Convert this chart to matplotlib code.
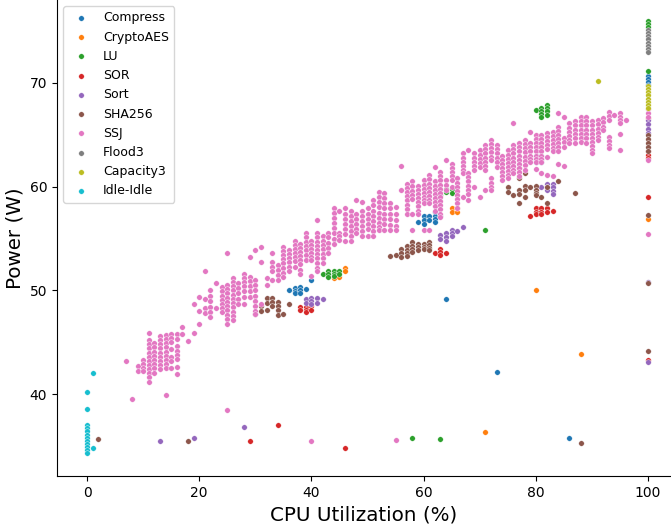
import matplotlib
matplotlib.use("Agg")
import matplotlib.pyplot as plt

# Series order = legend order = drawing order
labels = ["Compress", "CryptoAES", "LU", "SOR", "Sort", "SHA256",
          "SSJ", "Flood3", "Capacity3", "Idle-Idle"]

compress = [(36, 50.0), (37, 50.2), (37, 49.9), (37, 49.7), (38, 50.3), (38, 50.0),
            (38, 49.7), (39, 50.1), (40, 51.0), (59, 56.6), (60, 57.2), (60, 56.8),
            (60, 56.4), (61, 57.2), (61, 56.8), (62, 57.6), (62, 57.2), (62, 56.9),
            (62, 56.6), (63, 57.2), (64, 49.2), (73, 42.1), (80, 63.0), (80, 62.7),
            (80, 62.4), (81, 63.0), (81, 62.7), (81, 62.4), (86, 35.8), (100, 70.7),
            (100, 70.4), (100, 70.1), (100, 69.8)]

crypto_aes = [(44, 51.2), (45, 51.3), (46, 52.2), (46, 51.9), (65, 57.9), (65, 57.6),
              (66, 57.9), (66, 57.6), (71, 36.3), (80, 50.0), (81, 63.9), (88, 43.9),
              (100, 66.6), (100, 56.9)]

lu = [(42, 51.6), (43, 51.9), (43, 51.6), (43, 51.3), (44, 51.9), (44, 51.6),
      (44, 51.4), (45, 51.9), (45, 51.6), (58, 35.8), (63, 35.7), (63, 59.2),
      (64, 59.8), (64, 59.5), (65, 59.8), (65, 59.4), (71, 55.8), (80, 67.4),
      (81, 67.6), (81, 67.3), (81, 67.0), (81, 66.7), (82, 67.9), (82, 67.6),
      (82, 67.3), (82, 66.9), (100, 76.0), (100, 75.7), (100, 75.4), (100, 71.2)]

sor = [(29, 35.5), (34, 37.0), (38, 48.4), (38, 48.1), (39, 48.4), (39, 48.1),
       (39, 47.9), (40, 48.5), (40, 48.1), (46, 34.8), (62, 53.6), (63, 54.0),
       (63, 53.7), (63, 53.4), (64, 53.6), (79, 57.2), (80, 57.9), (80, 57.6),
       (80, 57.4), (81, 57.9), (81, 57.6), (81, 57.4), (82, 57.9), (82, 57.6),
       (83, 57.7), (100, 63.4), (100, 63.1), (100, 62.8), (100, 59.0), (100, 43.3)]

sort_ = [(13, 35.5), (19, 35.8), (28, 36.8), (39, 49.2), (39, 48.8), (40, 49.3),
         (40, 49.0), (40, 48.7), (41, 49.3), (41, 48.8), (42, 49.2), (63, 55.3),
         (63, 55.0), (64, 55.5), (64, 55.1), (64, 54.8), (65, 55.8), (65, 55.5),
         (65, 55.2), (66, 55.7), (67, 56.1), (81, 60.0), (82, 60.3), (82, 60.0),
         (82, 59.7), (83, 60.3), (83, 60.0), (83, 59.6), (83, 59.3), (100, 66.4),
         (100, 66.0), (100, 65.6), (100, 65.2), (100, 50.8), (100, 43.1)]

sha256 = [(2, 35.7), (18, 35.5), (30, 47.7), (31, 48.5), (31, 48.0), (32, 49.3),
          (32, 48.8), (32, 48.1), (33, 49.3), (33, 48.9), (33, 48.5), (34, 48.9),
          (34, 48.5), (34, 48.1), (34, 47.6), (35, 47.7), (36, 48.7), (54, 53.3),
          (55, 53.4), (56, 54.0), (56, 53.6), (56, 53.2), (57, 54.3), (57, 53.9),
          (57, 53.6), (57, 53.3), (58, 54.7), (58, 54.3), (58, 54.0), (58, 53.7),
          (59, 54.5), (59, 54.2), (59, 53.9), (60, 54.5), (60, 54.2), (60, 54.0),
          (61, 54.7), (61, 54.4), (61, 54.1), (61, 53.9), (75, 60.0), (75, 59.5),
          (76, 59.2), (77, 61.8), (77, 60.8), (77, 59.7), (77, 59.3), (77, 58.4),
          (78, 61.3), (78, 60.1), (78, 59.7), (78, 59.0), (79, 60.0), (80, 60.1),
          (80, 59.7), (80, 59.4), (80, 59.2), (81, 59.0), (82, 60.0), (82, 58.4),
          (84, 60.5), (87, 59.4), (88, 35.3), (100, 65.0), (100, 64.6), (100, 64.2),
          (100, 63.8), (100, 63.4), (100, 57.3), (100, 50.7), (100, 44.2)]

# SSJ: utilization -> measured power readings
ssj = {
    7: [43.2], 8: [39.5], 9: [42.7, 42.2], 10: [43.3, 42.9, 42.5, 42.2],
    11: [45.9, 45.2, 44.8, 44.4, 44.0, 43.6, 43.2, 42.8, 42.4, 42.0, 41.6, 41.2],
    12: [44.9, 44.5, 44.1, 43.7, 43.3, 42.9, 42.5, 42.0],
    13: [45.6, 45.2, 44.8, 44.4, 44.0, 43.6, 43.2, 42.8, 42.4],
    14: [45.7, 45.3, 44.9, 44.5, 44.1, 43.7, 43.3, 42.9, 42.5, 39.9],
    15: [45.8, 45.4, 45.0, 44.3, 43.6, 43.2, 42.5],
    16: [45.8, 45.3, 44.6, 44.2, 43.8, 43.4, 42.6, 41.9],
    17: [46.5, 45.8], 18: [45.1], 19: [48.7, 45.9], 20: [49.4, 48.0, 46.8],
    21: [51.9, 49.2, 48.3, 47.8],
    22: [50.0, 49.5, 49.0, 48.4, 47.9, 47.4], 23: [50.7, 48.3],
    24: [50.3, 49.9, 49.5, 49.1, 48.7, 48.3, 47.9],
    25: [53.6, 50.5, 50.1, 49.7, 49.3, 48.9, 48.5, 48.1, 47.6, 47.2, 46.8, 38.5],
    26: [51.2, 50.8, 50.4, 50.0, 49.6, 49.2, 48.8, 48.4, 47.9, 47.5, 47.1],
    27: [50.7, 50.2, 49.7, 49.2, 48.7],
    28: [51.6, 51.2, 50.8, 50.4, 49.9, 49.4, 48.7],
    29: [53.2, 51.3, 50.9, 50.4, 49.9, 49.4],
    30: [53.9, 51.0, 50.5, 50.0, 49.5, 49.0, 48.5, 48.0, 47.7],
    31: [54.2, 52.7, 48.7], 32: [51.2, 50.5],
    33: [53.6, 52.7, 52.3, 51.9, 51.0], 34: [52.4, 52.0, 51.5, 51.0],
    35: [54.2, 53.8, 53.4, 53.0, 52.6, 52.2, 51.7, 51.3],
    36: [53.9, 53.5, 53.1, 52.7, 52.3, 51.9],
    37: [54.8, 54.4, 54.0, 53.6, 53.2, 52.8, 52.3],
    38: [54.5, 54.1, 53.7, 53.3, 52.9, 52.5, 52.0, 51.6],
    39: [55.5, 55.1, 54.7, 54.3, 53.9, 53.4, 52.9],
    40: [54.8, 54.4, 54.0, 53.6, 53.2, 52.9, 51.4, 35.5],
    41: [56.8, 55.5, 55.1, 54.7, 54.3, 53.9, 53.5, 53.1, 52.6, 52.2, 51.9],
    42: [55.2, 54.8, 54.4, 54.0, 53.5, 53.1, 52.6],
    43: [55.5, 55.1, 54.6, 54.1, 53.6],
    44: [57.9, 57.5, 57.0, 56.5, 56.0, 55.5, 55.0, 54.5],
    45: [57.7, 55.5, 55.2, 54.9],
    46: [57.9, 57.4, 56.9, 56.4, 55.9, 55.4, 54.8],
    47: [57.7, 57.2, 56.7, 56.2, 55.7, 55.2, 54.8],
    48: [58.7, 57.4, 56.9, 56.4, 55.9, 55.5],
    49: [58.5, 57.7, 57.2, 56.7, 56.2, 55.7, 55.2],
    50: [57.9, 57.4, 56.9, 56.4, 55.9, 55.2],
    51: [58.7, 58.2, 57.7, 57.2, 56.7, 56.2, 55.7, 55.2],
    52: [59.5, 59.0, 58.5, 58.0, 57.5, 57.0, 56.5, 56.1, 55.8],
    53: [59.4, 58.9, 58.4, 57.9, 57.4, 56.9, 56.4, 55.8],
    54: [58.4, 57.9, 57.4, 56.9, 56.3, 55.8],
    55: [58.0, 57.4, 56.8, 56.2, 55.8, 35.6],
    56: [62.0, 59.7],
    57: [60.3, 59.9, 59.5, 59.1, 58.7, 58.2, 57.8, 57.4],
    58: [60.5, 60.1, 59.6, 59.2, 58.8, 57.4, 55.8],
    59: [60.1, 59.7, 59.3, 58.9, 58.5, 58.1, 57.7, 57.4],
    60: [60.6, 60.2, 59.8, 59.4, 59.0, 58.7, 58.4, 55.8],
    61: [61.1, 60.7, 60.3, 59.9, 59.5, 59.1, 58.7, 58.4, 55.8],
    62: [61.9, 60.5, 60.1, 59.7, 59.3, 58.9, 58.5, 58.1, 57.7],
    63: [61.4, 61.0, 60.6, 60.2, 59.8, 59.4, 59.0, 58.6, 58.2, 57.8, 57.4, 57.1],
    64: [62.6, 60.6, 60.2, 59.7],
    65: [62.2, 61.8, 61.4, 61.0, 60.6, 60.0],
    66: [60.8, 60.4, 60.0, 59.6, 59.2, 58.8, 58.4, 57.9],
    67: [63.2, 62.8, 62.4, 62.0, 61.6, 61.3, 59.0],
    68: [63.5, 61.3, 60.9, 60.5, 60.1, 59.7, 59.3, 58.7],
    69: [63.2, 62.8, 62.4, 62.0, 61.6, 60.0],
    70: [63.5, 63.1, 62.7, 62.3, 61.9, 59.0],
    71: [64.0, 63.6, 63.2, 62.8, 62.4, 62.0, 61.6, 59.7],
    72: [64.5, 64.1, 63.7, 63.3, 62.9, 62.6, 60.8, 60.4, 60.0, 59.7],
    73: [64.0, 63.6, 63.2, 62.8, 62.4, 61.9],
    74: [63.0, 62.6, 62.2, 61.8, 61.4, 61.0, 60.6],
    75: [63.5, 63.1, 62.7, 62.3, 61.9, 61.5, 61.1, 60.8],
    76: [66.1, 64.0, 63.6, 63.2, 62.8, 62.4, 62.0, 61.6, 61.3],
    77: [64.2, 63.8, 63.4, 63.0, 62.6, 62.2, 61.8, 61.4, 61.0],
    78: [64.5, 64.1, 63.7, 63.3, 62.9, 62.5, 62.1, 61.6],
    79: [65.3, 64.2, 63.8, 63.4, 63.0, 62.7, 62.4],
    80: [65.0, 64.6, 64.2, 63.8, 63.4, 63.0, 62.7, 62.4, 61.7],
    81: [65.0, 64.6, 64.2, 63.8, 63.4, 63.0, 62.7, 62.4, 61.3],
    82: [65.2, 64.8, 64.4, 64.0, 63.6, 62.9, 61.1],
    83: [65.3, 64.9, 64.5, 64.1, 63.7, 63.4, 61.0],
    84: [67.1, 65.8, 65.4, 65.0, 64.6, 64.2, 63.8, 63.4, 62.2],
    85: [66.7, 64.7, 64.3, 63.8, 62.0],
    86: [66.1, 65.7, 65.3, 64.9, 64.5, 64.2],
    87: [66.3, 65.9, 65.5, 65.1, 64.7, 64.2],
    88: [66.7, 66.3, 65.9, 65.5, 65.1, 64.7, 64.3],
    89: [66.7, 66.3, 65.9, 65.5, 65.1, 64.7, 64.2],
    90: [66.3, 65.9, 65.5, 65.1, 64.7, 64.3, 63.9, 63.5, 63.2],
    91: [66.4, 66.0, 65.6, 65.2, 64.8, 64.5],
    92: [66.6, 66.2, 65.8, 65.5],
    93: [67.2, 66.8, 66.4, 64.8, 64.4, 64.0, 63.7],
    94: [66.9],
    95: [67.1, 66.7, 66.4, 66.1, 65.1, 63.5],
    96: [66.4],
    100: [67.5, 67.1, 66.7, 62.6, 55.4],
}

flood3 = [(100, 75.1), (100, 74.8), (100, 74.5), (100, 74.2), (100, 73.9),
          (100, 73.6), (100, 73.3), (100, 73.0)]

capacity3 = [(91, 70.2), (100, 69.7), (100, 69.4), (100, 69.1), (100, 68.8),
             (100, 68.5), (100, 68.2), (100, 67.9), (100, 67.6)]

idle_idle = [(0, 40.2), (0, 38.6), (0, 37.0), (0, 36.7), (0, 36.4), (0, 36.1),
             (0, 35.8), (0, 35.5), (0, 35.2), (0, 34.9), (0, 34.6), (0, 34.3),
             (1, 42.0), (1, 34.8)]

ssj_points = [(x, y) for x, ys in ssj.items() for y in ys]
series = [compress, crypto_aes, lu, sor, sort_, sha256, ssj_points,
          flood3, capacity3, idle_idle]

fig = plt.figure(figsize=(6.71, 5.28), dpi=100)
ax = fig.add_axes([57 / 671, 52 / 528, 614 / 671, 476 / 528])

for label, pts in zip(labels, series):
    xs = [p[0] for p in pts]
    ys = [p[1] for p in pts]
    ax.scatter(xs, ys, s=16, label=label, edgecolors="white", linewidths=0.3)

ax.set_xlim(-5.35, 104.1)
ax.set_ylim(32.1, 78.0)
ax.set_xlabel("CPU Utilization (%)", fontsize=14.3)
ax.set_ylabel("Power (W)", fontsize=14.3)
ax.set_xticks([0, 20, 40, 60, 80, 100])
ax.set_yticks([40, 50, 60, 70])
ax.tick_params(labelsize=10)
ax.spines["top"].set_visible(False)
ax.spines["right"].set_visible(False)
ax.legend(loc="upper left", fontsize=9)

fig.savefig("out.png", dpi=100)
